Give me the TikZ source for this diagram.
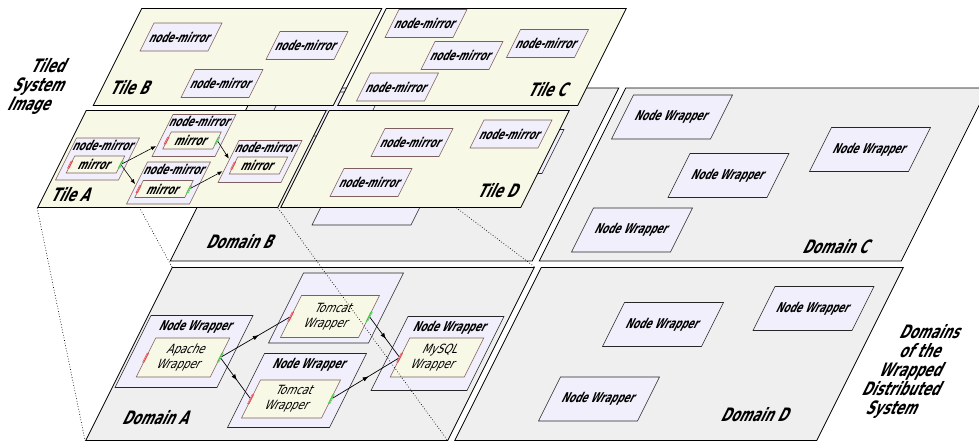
\documentclass[tikz,border=0pt]{standalone}
\usepackage{fontspec}
\newfontfamily\diagsf[FakeStretch=0.66]{DejaVu Sans}
\newfontfamily\diagsflight[FakeStretch=0.8]{DejaVu Sans}
\newcommand{\boxfont}{\diagsf\bfseries\fontsize{13.5}{15}\selectfont}
\newcommand{\wrapfont}{\diagsflight\fontsize{12.7}{15}\selectfont}
\newcommand{\planefont}{\diagsf\bfseries\fontsize{18.5}{19}\selectfont}
\usetikzlibrary{arrows.meta,decorations.markings}
\definecolor{tilecream}{RGB}{248,248,230}
\definecolor{domaingray}{RGB}{239,239,239}
\definecolor{nodelav}{RGB}{241,239,251}
\definecolor{boxbrown}{RGB}{125,95,95}
\definecolor{portred}{RGB}{255,60,60}
\definecolor{portgreen}{RGB}{60,220,60}
\pgfdeclarelayer{tiles}
\pgfsetlayers{main,tiles}

\begin{document}
\begin{tikzpicture}[x=1pt, y=-1pt,
domainnode/.style={draw, fill=domaingray, xslant=0.5, line width=0.8pt, minimum width=362pt, minimum height=173pt, inner sep=0pt},
tilenode/.style={draw, fill=tilecream, xslant=0.5, line width=0.8pt, minimum width=240pt, minimum height=97pt, inner sep=0pt},
wrapnode/.style={draw=black!85, fill=nodelav, xslant=0.5, line width=0.6pt, minimum width=99pt, minimum height=44pt, inner sep=0pt, font=\boxfont},
labelwrap/.style={draw=black!85, fill=nodelav, xslant=0.5, line width=0.6pt, inner sep=0pt, font=\boxfont, text height=15pt, text depth=#1},
wrapinner/.style={draw=boxbrown, fill=tilecream, xslant=0.5, line width=0.6pt, inner sep=0pt, font=\wrapfont, align=center},
mirrornode/.style={draw=boxbrown, fill=nodelav, xslant=0.5, line width=0.6pt, minimum width=68pt, minimum height=28pt, inner sep=0pt, font=\boxfont},
mirrorouter/.style={draw=boxbrown, fill=nodelav, xslant=0.5, line width=0.6pt, minimum width=63pt, inner sep=0pt, font=\boxfont, text height=12pt, text depth=30pt},
mirrorinner/.style={draw=boxbrown, fill=tilecream, xslant=0.5, line width=0.6pt, minimum width=50pt, minimum height=17pt, inner sep=0pt, font=\boxfont},
planetext/.style={xslant=0.5, inner sep=0pt, align=center, font=\planefont},
inport/.style={draw=portred, xslant=0.5, line width=0.5pt, minimum width=1.6pt, minimum height=#1, inner sep=0pt},
outport/.style={draw=portgreen, xslant=0.5, line width=0.5pt, minimum width=1.6pt, minimum height=#1, inner sep=0pt},
flow/.style={line width=0.7pt, postaction={decorate}, decoration={markings, mark=at position 0.55 with {\arrow{Latex[length=6pt,width=4.5pt]}}}},
mirrorflow/.style={line width=0.6pt, -{Latex[length=5pt,width=4pt]}},
projection/.style={dotted, line width=0.7pt},
]
\useasboundingbox (0,0) rectangle (979,442);

%Domains
\node[domainnode] (domain_b) at (394.5,174.5) {};
\node[domainnode] (domain_c) at (763.5,174.5) {};
\node[domainnode] (domain_a) at (310,354) {};
\node[domainnode] (domain_d) at (679,354) {};

\node[planetext] (domain_b_label) at (242,242) {Domain B};
\node[planetext] (domain_c_label) at (838,247) {Domain C};
\node[planetext] (domain_a_label) at (158,418) {Domain A};
\node[planetext] (domain_d_label) at (757,415) {Domain D};

%Node wrappers of domain B (under the tiles)
\node[wrapnode] (wrapper_b1) at (372.5,203) {};
\node[wrapnode] (wrapper_b2) at (503.5,151.5) {};
\node[wrapnode] (wrapper_b3) at (321.5,114) {};

%Node wrappers of domain C
\node[wrapnode] (wrapper_c1) at (672,117) {Node Wrapper};
\node[wrapnode] (wrapper_c2) at (728.5,175.5) {Node Wrapper};
\node[wrapnode] (wrapper_c3) at (870,149.5) {Node Wrapper};
\node[wrapnode] (wrapper_c4) at (632,230) {Node Wrapper};

%Node wrappers of domain D
\node[wrapnode] (wrapper_d1) at (663,324.5) {Node Wrapper};
\node[wrapnode] (wrapper_d2) at (813.5,308.5) {Node Wrapper};
\node[wrapnode] (wrapper_d3) at (599,399) {Node Wrapper};

%Domain A
\node[labelwrap=57pt, minimum width=102pt] (apache_node) at (184,351.5) {Node Wrapper};
\node[wrapinner, minimum width=74pt, minimum height=39pt] (apache) at (183,357.5) {Apache\\Wrapper};
\node[wrapnode, minimum width=100pt, minimum height=70pt] (tomcat_node_1) at (336,308) {};
\node[wrapinner, minimum width=78pt, minimum height=42pt] (tomcat_1) at (330,316.5) {Tomcat\\Wrapper};
\node[labelwrap=59pt, minimum width=102pt] (tomcat_node_2) at (297,390.5) {Node Wrapper};
\node[wrapinner, minimum width=80pt, minimum height=38pt] (tomcat_2) at (291,399) {Tomcat\\Wrapper};
\node[labelwrap=59pt, minimum width=96pt] (mysql_node) at (437.5,353.5) {Node Wrapper};
\node[wrapinner, minimum width=74pt, minimum height=39pt] (mysql) at (437,357.5) {MySQL\\Wrapper};

\node[inport=9pt] (apache_in) at (apache.west) {};
\node[outport=9pt] (apache_out) at (apache.east) {};
\node[inport=9pt] (tomcat_1_in) at (tomcat_1.west) {};
\node[outport=9pt] (tomcat_1_out) at (tomcat_1.east) {};
\node[inport=9pt] (tomcat_2_in) at (tomcat_2.west) {};
\node[outport=9pt] (tomcat_2_out) at (tomcat_2.east) {};
\node[inport=9pt] (mysql_in) at (mysql.west) {};

\draw[flow] (apache_out) -- (tomcat_1_in);
\draw[flow] (apache_out) -- (tomcat_2_in);
\draw[flow] (tomcat_1_out) -- (mysql_in);
\draw[flow] (tomcat_2_out) -- (mysql_in);

%Tiles
\begin{pgfonlayer}{tiles}
\node[tilenode] (tile_b) at (237.5,57) {};
\node[tilenode] (tile_c) at (482,57) {};
\node[tilenode] (tile_a) at (182,159) {};
\node[tilenode] (tile_d) at (425,159) {};

\node[planetext] (tile_b_label) at (132,88) {Tile B};
\node[planetext] (tile_c_label) at (550,90) {Tile C};
\node[planetext] (tile_a_label) at (73,195) {Tile A};
\node[planetext] (tile_d_label) at (500,191) {Tile D};

\node[mirrornode] (mirror_b1) at (181,37) {node-mirror};
\node[mirrornode] (mirror_b2) at (307,45.5) {node-mirror};
\node[mirrornode] (mirror_b3) at (222,83.5) {node-mirror};

\node[mirrornode] (mirror_c1) at (426,23.5) {node-mirror};
\node[mirrornode] (mirror_c2) at (462,55.5) {node-mirror};
\node[mirrornode] (mirror_c3) at (547.5,43.5) {node-mirror};
\node[mirrornode] (mirror_c4) at (397.5,87) {node-mirror};

\node[mirrornode] (mirror_d1) at (412,142.5) {node-mirror};
\node[mirrornode] (mirror_d2) at (511,134) {node-mirror};
\node[mirrornode] (mirror_d3) at (371,182.5) {node-mirror};

\node[mirrorouter] (mirror_node_1) at (97.5,159) {node-mirror};
\node[mirrorinner] (mirror_1) at (95.5,164.5) {mirror};
\node[mirrorouter] (mirror_node_2) at (194,135.5) {node-mirror};
\node[mirrorinner] (mirror_2) at (192,140.5) {mirror};
\node[mirrorouter] (mirror_node_3) at (168.5,183) {node-mirror};
\node[mirrorinner] (mirror_3) at (164,189) {mirror};
\node[mirrorouter] (mirror_node_4) at (260,161.5) {node-mirror};
\node[mirrorinner] (mirror_4) at (258.5,165.5) {mirror};

\node[inport=7pt] (mirror_1_in) at (mirror_1.west) {};
\node[outport=7pt] (mirror_1_out) at (mirror_1.east) {};
\node[inport=7pt] (mirror_2_in) at (mirror_2.west) {};
\node[outport=7pt] (mirror_2_out) at (mirror_2.east) {};
\node[inport=7pt] (mirror_3_in) at (mirror_3.west) {};
\node[outport=7pt] (mirror_3_out) at (mirror_3.east) {};
\node[inport=7pt] (mirror_4_in) at (mirror_4.west) {};

\draw[mirrorflow, shorten >=10.5pt] (mirror_1_out) -- (mirror_2_in);
\draw[mirrorflow, shorten >=5pt] (mirror_1_out) -- (mirror_3_in);
\draw[mirrorflow, shorten >=7pt] (mirror_2_out) -- (mirror_4_in);
\draw[mirrorflow, shorten >=10.5pt] (mirror_3_out) -- (mirror_4_in);
\end{pgfonlayer}

%Projection of tile A onto domain A
\draw[projection] (tile_a.north west) -- (domain_a.north west);
\draw[projection] (tile_a.south west) -- (domain_a.south west);
\draw[projection] (tile_a.north east) -- (domain_a.north east);
\draw[projection] (tile_a.south east) -- (domain_a.south east);

%Side labels
\node[planetext] (tiled_label) at (40,86) {Tiled\\System\\Image};
\node[planetext] (domains_label) at (912,371) {Domains\\of the\\Wrapped\\Distributed\\System};

\end{tikzpicture}
\end{document}
